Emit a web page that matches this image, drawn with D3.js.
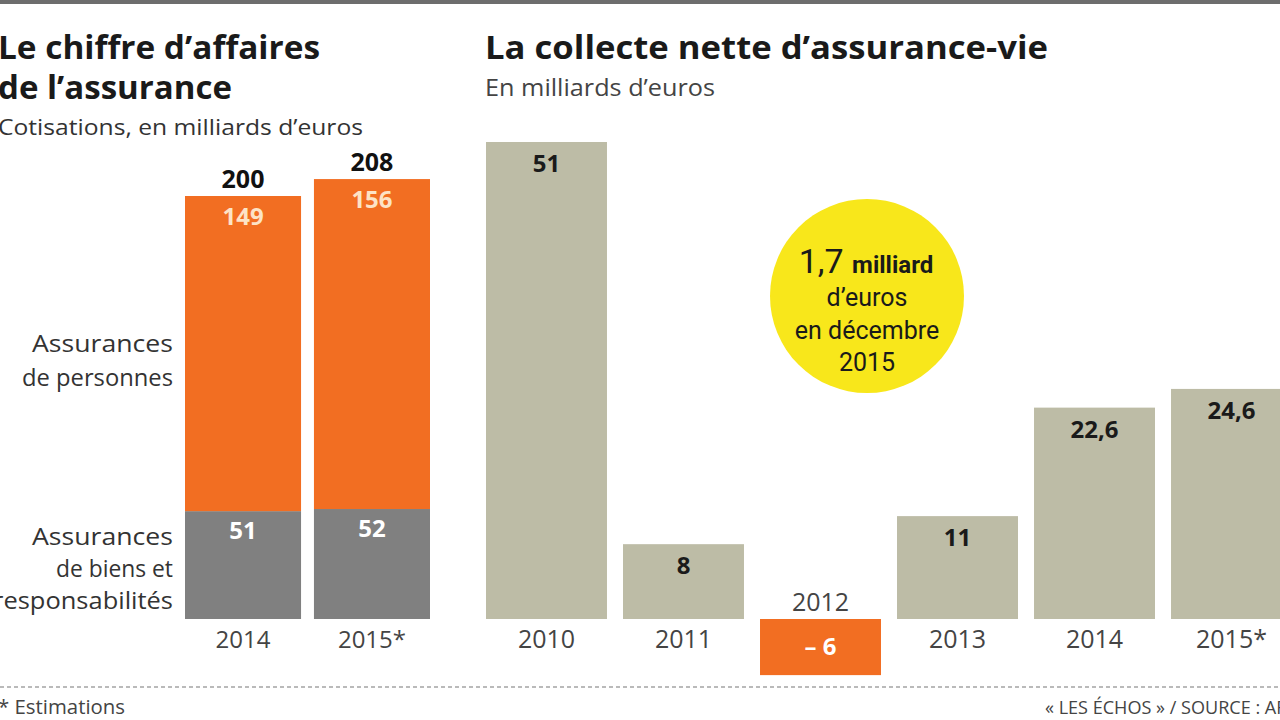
<!DOCTYPE html>
<html><head><meta charset="utf-8">
<script src="https://cdn.jsdelivr.net/npm/d3@7"></script>
<style>
html,body{margin:0;padding:0;background:#fff;overflow:hidden}
svg{display:block}
text{font-family:"Open Sans",Roboto,sans-serif}
</style></head>
<body>
<svg id="c" width="1280" height="720"></svg>
<script>
// Left chart data
const leftYears = ["2014", "2015*"];
const leftPersonnes = [149, 156];
const leftBiens = [51, 52];
const leftTotals = [200, 208];
// Right chart data
const rightYears = ["2010", "2011", "2012", "2013", "2014", "2015*"];
const rightValues = [51, 8, -6, 11, 22.6, 24.6];
const rightLabels = ["51", "8", "– 6", "11", "22,6", "24,6"];

const svg = d3.select("#c");
const ORANGE = "#f26e22", GREY = "#808080", TAN = "#bdbca6", YELLOW = "#f8e71b";

function txt(x, y, s, size, opts = {}) {
  const t = svg.append("text").attr("x", x).attr("y", y).attr("font-size", size)
    .attr("font-weight", opts.weight || 400).attr("fill", opts.fill || "#222")
    .attr("text-anchor", opts.anchor || "start").text(s);
  if (opts.family) t.style("font-family", opts.family);
  if (opts.len) t.attr("textLength", opts.len).attr("lengthAdjust", "spacingAndGlyphs");
  return t;
}

// top rule
svg.append("rect").attr("x",0).attr("y",0).attr("width",1280).attr("height",4).attr("fill","#6d6d6d");

// Titles left
txt(-2, 59, "Le chiffre d’affaires", 32, {weight:700, fill:"#1a1a1a", len:322});
txt(-2, 99, "de l’assurance", 32, {weight:700, fill:"#1a1a1a", len:234});
txt(-2, 135, "Cotisations, en milliards d’euros", 22, {fill:"#333", len:365});

// Titles right
txt(485, 59, "La collecte nette d’assurance-vie", 32, {weight:700, fill:"#1a1a1a", len:563});
txt(485, 96, "En milliards d’euros", 23, {fill:"#444", len:230});

// ---- Left stacked chart
const baseY = 619;
const xL = d3.scaleBand().domain(leftYears).range([185, 430]).paddingInner(0.1).paddingOuter(0);
const yL = d3.scaleLinear().domain([0, 200]).range([baseY, 196]);
const gL = svg.append("g");
leftYears.forEach((yr,i)=>{
  const x = xL(yr), w = xL.bandwidth();
  gL.append("rect").attr("x",x).attr("y",yL(leftBiens[i])).attr("width",w).attr("height",baseY-yL(leftBiens[i])).attr("fill",GREY);
  gL.append("rect").attr("x",x).attr("y",yL(leftTotals[i])).attr("width",w).attr("height",yL(leftBiens[i])-yL(leftTotals[i])).attr("fill",ORANGE);
  const cx = x + w/2;
  gL.append("text").attr("x",cx).attr("y",yL(leftTotals[i])-8).attr("text-anchor","middle").attr("font-size",25).attr("font-weight",700).attr("fill","#111").text(leftTotals[i]);
  gL.append("text").attr("x",cx).attr("y",yL(leftTotals[i])+29).attr("text-anchor","middle").attr("font-size",24).attr("font-weight",700).attr("fill","#fde3c6").text(leftPersonnes[i]);
  gL.append("text").attr("x",cx).attr("y",yL(leftBiens[i])+28).attr("text-anchor","middle").attr("font-size",24).attr("font-weight",700).attr("fill","#fff").text(leftBiens[i]);
  gL.append("text").attr("x",cx).attr("y",baseY+29).attr("text-anchor","middle").attr("font-size",24).attr("fill","#444").text(yr);
});
// category labels
[["Assurances",352,141],["de personnes",386,151]].forEach(d=>{
  txt(173, d[1], d[0], 24, {anchor:"end", fill:"#333", len:d[2]});
});
[["Assurances",545,141],["de biens et",577,117],["responsabilités",609,180]].forEach(d=>{
  txt(173, d[1], d[0], 24, {anchor:"end", fill:"#333", len:d[2]});
});

// ---- Right chart
const xR = d3.scaleBand().domain(rightYears).range([486, 1292]).paddingInner(0.117).paddingOuter(0);
const yR = d3.scaleLinear().domain([0, 51]).range([baseY, 142]);
const gR = svg.append("g");
rightYears.forEach((yr,i)=>{
  const v = rightValues[i];
  const x = xR(yr), w = xR.bandwidth(), cx = x + w/2;
  const y0 = Math.min(yR(v), yR(0)), h = Math.abs(yR(v)-yR(0));
  gR.append("rect").attr("x",x).attr("y",y0).attr("width",w).attr("height",h).attr("fill", v<0?ORANGE:TAN);
  if (v >= 0) {
    gR.append("text").attr("x",cx).attr("y",yR(v)+30).attr("text-anchor","middle").attr("font-size",24).attr("font-weight",700).attr("fill","#1a1a1a").text(rightLabels[i]);
    gR.append("text").attr("x",cx).attr("y",baseY+29).attr("text-anchor","middle").attr("font-size",25).attr("fill","#444").text(yr);
  } else {
    gR.append("text").attr("x",cx).attr("y",yR(v)-20).attr("text-anchor","middle").attr("font-size",24).attr("font-weight",700).attr("fill","#fff").text(rightLabels[i]);
    gR.append("text").attr("x",cx).attr("y",baseY-8).attr("text-anchor","middle").attr("font-size",25).attr("fill","#444").text(yr);
  }
});

// Yellow bubble
svg.append("circle").attr("cx",867).attr("cy",296).attr("r",97).attr("fill",YELLOW);
const bt = svg.append("text").attr("x",866).attr("y",273).attr("text-anchor","middle").attr("fill","#1a1a1a").style("font-family","Roboto,sans-serif");
bt.append("tspan").attr("font-size",34).attr("font-weight",400).text("1,7 ");
bt.append("tspan").attr("font-size",24).attr("font-weight",700).text("milliard");
[["d’euros",306],["en décembre",339],["2015",371]].forEach(d=>{
  txt(867, d[1], d[0], 25, {anchor:"middle", weight:400, fill:"#1a1a1a", family:"Roboto,sans-serif"});
});

// Footer
svg.append("line").attr("x1",0).attr("x2",1280).attr("y1",687).attr("y2",687).attr("stroke","#777").attr("stroke-width",1.2).attr("stroke-dasharray","4,3");
txt(-2, 714, "* Estimations", 20, {fill:"#444", len:127});
txt(1045, 714, "« LES ÉCHOS » / SOURCE : AFA", 19, {fill:"#444", len:252});
</script>
</body></html>
